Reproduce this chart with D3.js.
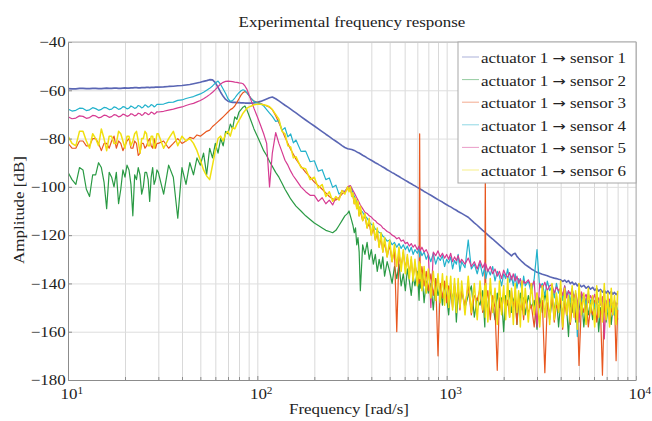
<!DOCTYPE html>
<html>
<head>
<meta charset="utf-8">
<script src="https://cdn.jsdelivr.net/npm/d3@7"></script>
<style>
body{margin:0;background:#fff;}
svg text{font-family:"Liberation Serif","Times New Roman",serif;fill:#222;}
</style>
</head>
<body>
<svg id="chart" width="652" height="421"></svg>
<script>
// frequency grid [rad/s], shared by all six measured responses
var freq = [
 10,10.5,11,11.5,12,12.5,13,13.5,14,14.5,
 15,15.5,16,16.5,17,17.5,18,18.5,19,19.5,
 20,20.5,21,21.5,22,22.5,23,23.5,24,24.5,
 25,25.5,26,26.5,27,27.5,28,28.5,29,29.5,
 30,32,34,36,38,40,42,44,46,48,
 50,52,54,56,58,60,62,64,66,68,
 70,72,74,76,78,80,82,84,86,88,
 90,93,96,100,104,108,112,116,120,125,
 130,135,140,145,150,155,160,170,180,190,
 200,210,220,230,240,250,260,270,280,290,
 300,305,310,315,320,325,330,335,340,345,
 350,360,370,380,390,400,410,420,430,440,
 450,460,470,485,500,515,530,545,560,575,
 590,605,620,635,650,665,680,700,715,720,
 725,740,760,780,800,825,850,875,900,925,
 950,975,1000,1025,1050,1075,1100,1125,1150,1175,
 1200,1250,1300,1350,1400,1450,1500,1550,1590,1600,
 1610,1650,1700,1750,1800,1850,1900,1950,2000,2050,
 2100,2150,2200,2250,2300,2350,2400,2450,2500,2550,
 2600,2700,2800,2900,3000,3100,3200,3300,3400,3500,
 3600,3700,3800,3900,4000,4100,4200,4300,4400,4500,
 4600,4700,4800,4900,5000,5150,5300,5450,5600,5750,
 5900,6050,6200,6350,6500,6650,6800,6950,7100,7250,
 7400,7550,7700,7850,8000];

// amplitudes [dB]
var sensor1 = [
 -59.3,-59.4,-59.4,-59.2,-59.2,-59.3,-59.3,-59.2,-59.2,-59.3,
 -59.3,-59.2,-59.1,-59.2,-59.2,-59.1,-59.1,-59.2,-59.2,-59.1,
 -59.0,-59.1,-59.1,-59.0,-59.0,-58.9,-58.9,-59.0,-59.0,-58.9,
 -58.9,-58.9,-58.8,-58.8,-58.9,-58.8,-58.8,-58.8,-58.7,-58.7,
 -58.7,-58.6,-58.4,-58.3,-58.1,-58.0,-57.8,-57.6,-57.3,-57.0,
 -56.7,-56.3,-56.0,-55.6,-55.7,-56.8,-58.8,-60.8,-62.5,-63.8,
 -64.5,-64.8,-65.0,-65.0,-65.1,-65.1,-65.2,-65.2,-65.3,-65.3,
 -65.3,-65.3,-65.2,-65.0,-64.6,-64.1,-63.6,-63.1,-62.8,-63.5,
 -64.4,-65.3,-66.2,-67.0,-67.8,-68.6,-69.4,-70.9,-72.3,-73.6,
 -74.8,-76.0,-77.1,-78.2,-79.2,-80.2,-81.1,-82.0,-82.9,-83.7,
 -84.2,-84.3,-84.4,-84.5,-84.7,-84.9,-85.2,-85.5,-85.8,-86.0,
 -86.3,-86.9,-87.4,-88.0,-88.5,-89.0,-89.5,-90.0,-90.4,-90.9,
 -91.3,-91.8,-92.2,-92.9,-93.5,-94.1,-94.6,-95.2,-95.7,-96.3,
 -96.8,-97.3,-97.8,-98.3,-98.7,-99.2,-99.6,-100.2,-100.6,-100.8,
 -100.9,-101.3,-101.9,-102.4,-102.9,-103.5,-104.1,-104.7,-105.3,-105.8,
 -106.3,-106.9,-107.4,-107.9,-108.3,-108.8,-109.3,-109.7,-110.2,-110.6,
 -111.0,-111.8,-112.6,-113.8,-114.9,-115.9,-117.0,-118.0,-118.7,-118.9,
 -119.1,-119.9,-120.8,-121.6,-122.5,-123.3,-124.1,-124.9,-125.7,-126.5,
 -127.2,-127.9,-128.6,-127.8,-127.5,-128.8,-129.6,-130.3,-131.0,-131.6,
 -132.2,-133.1,-134.0,-134.7,-135.4,-135.8,-136.2,-136.5,-136.8,-137.2,
 -137.5,-137.8,-138.0,-138.3,-138.5,-139.2,-138.6,-139.5,-138.8,-140.1,
 -139.4,-140.5,-139.9,-141.0,-140.3,-141.4,-140.8,-142.0,-141.2,-142.4,
 -141.6,-142.9,-142.0,-143.2,-142.5,-143.6,-142.8,-144.0,-143.1,-144.2,
 -143.4,-144.5,-143.7,-144.6,-144.0];

var sensor2 = [
 -94,-97,-99,-92,-93,-101,-104,-95,-95,-90,
 -92,-98,-109,-94,-96,-100,-94,-107,-101,-93,
 -96,-91,-93,-99,-112,-95,-97,-92,-95,-103,
 -100,-94,-94,-97,-106,-96,-92,-99,-97,-93,
 -94,-103,-91,-96,-113,-92,-99,-90,-95,-88,
 -91,-86,-95,-84,-88,-82,-86,-80,-83,-77,
 -78,-74,-76,-71,-72,-69,-68,-67,-66.5,-68,
 -70,-73,-76,-79,-82,-85,-87,-89.5,-91.5,-94,
 -96,-98.5,-101,-103,-105,-106.5,-108,-110,-112,-113.5,
 -115,-116,-117,-118,-118.5,-119,-118,-116,-114,-112,
 -111,-110,-112,-114,-116,-119,-117,-124,-121,-127,
 -143,-124,-128,-123,-130,-126,-132,-128,-135,-130,
 -134,-129,-137,-131,-135,-140,-133,-138,-132,-141,
 -136,-143,-134,-139,-145,-137,-141,-135,-147,-138,
 -142,-136,-148,-139,-144,-140,-151,-138,-145,-141,
 -149,-140,-146,-153,-142,-147,-141,-156,-144,-148,
 -143,-150,-145,-141,-154,-146,-149,-143,-158,-147,
 -145,-151,-142,-148,-155,-144,-150,-146,-160,-145,
 -149,-143,-152,-147,-145,-157,-148,-144,-151,-146,
 -153,-145,-150,-147,-159,-146,-152,-144,-149,-155,
 -147,-151,-145,-158,-148,-153,-146,-150,-162,-147,
 -152,-146,-156,-149,-151,-145,-158,-148,-153,-147,
 -155,-149,-146,-160,-150,-153,-147,-156,-151,-148,
 -157,-150,-153,-148,-155];

var sensor3 = [
 -82,-84,-84,-81,-81,-83,-83,-80,-80,-82,
 -85,-82,-82,-84,-81,-79,-84,-81,-82,-85,
 -83,-81,-80,-84,-84,-81,-82,-87,-86,-82,
 -82,-84,-83,-81,-80,-83,-84,-80,-84,-82,
 -82,-81,-84,-82,-80,-82,-81,-79.5,-80,-78.5,
 -79,-78,-77,-76.5,-75,-74,-73,-72,-71,-70,
 -69,-68,-67.5,-66.5,-65,-63.5,-62,-61,-60.5,-61,
 -62,-63.5,-64.5,-65,-65.5,-66,-66.5,-67,-68,-70.5,
 -73.5,-76.5,-79.5,-82,-84.5,-86.5,-88.5,-91.5,-94,-96,
 -98,-99.5,-101,-102.5,-104,-105,-105.5,-104.5,-103,-102,
 -101,-100.5,-101,-103,-104,-107,-105,-109,-108,-112,
 -110,-114,-112,-117,-115,-120,-117,-122,-119,-125,
 -121,-127,-123,-129,-124,-131,-126,-160,-128,-133,
 -127,-134,-129,-136,-130,-138,-132,-137,-140,-78,
 -139,-133,-141,-135,-143,-136,-145,-138,-170,-140,
 -146,-139,-148,-141,-144,-150,-140,-147,-142,-151,
 -143,-149,-141,-153,-145,-147,-142,-152,-146,-94,
 -148,-143,-155,-145,-150,-176,-146,-152,-144,-149,
 -147,-154,-143,-150,-146,-157,-145,-151,-148,-155,
 -146,-152,-149,-158,-144,-150,-147,-177,-148,-153,
 -145,-156,-149,-151,-146,-159,-148,-153,-145,-157,
 -150,-147,-155,-149,-174,-148,-152,-146,-158,-150,
 -153,-147,-156,-149,-152,-178,-148,-154,-146,-157,
 -150,-153,-147,-172,-151];

var sensor4 = [
 -67.8,-68.6,-68.3,-67.4,-67.5,-68.4,-68.1,-67.2,-67.6,-68.3,
 -67.9,-67.1,-67.3,-68.0,-67.8,-66.9,-67.2,-67.9,-67.6,-66.8,
 -67.0,-67.7,-67.4,-66.5,-66.9,-67.5,-67.2,-66.3,-66.6,-67.3,
 -66.9,-66.0,-66.4,-67.0,-66.7,-65.9,-66.2,-66.9,-66.5,-65.8,
 -65.8,-65.7,-65.0,-64.9,-64.2,-64.0,-63.4,-63.0,-62.6,-62.0,
 -61.5,-60.8,-60.0,-59.2,-58.2,-57.0,-56.2,-57.6,-59.5,-61.3,
 -63.5,-64.6,-64.3,-63.2,-62.0,-61.0,-60.2,-59.8,-60.1,-61.0,
 -62.0,-63.5,-64.6,-65.2,-65.5,-66.5,-68.0,-69.5,-70.8,-72.9,
 -72.6,-76.5,-75.5,-79.3,-78.1,-81.8,-80.6,-85.3,-85.2,-89.6,
 -89.2,-93.5,-92.9,-97.0,-96.3,-100.2,-99.3,-103.0,-102.0,-101.8,
 -100.5,-100,-99.8,-100.8,-102.5,-103.8,-105,-106.3,-107.5,-108.5,
 -109.5,-110.5,-112,-113,-114.5,-115.5,-116,-117.5,-118,-119,
 -119,-120.5,-121,-122.5,-122,-124,-123,-125,-123.5,-125.5,
 -124,-126,-124.5,-127,-125,-128,-126,-127.5,-125.5,-129,
 -126,-128.5,-127,-130,-128,-131,-127.5,-132,-129,-130.5,
 -128.5,-133,-130,-131.5,-129,-134,-130.5,-132,-128,-135,
 -131,-133.5,-122,-134,-132,-136,-131.5,-137,-133,-135,
 -138,-134,-136.5,-133,-139,-135,-137,-141,-136,-138,
 -134,-139.5,-137,-141,-136,-142,-138,-140,-143,-137,
 -141,-139,-144,-138,-126,-142,-140,-145,-139,-143,
 -141,-146,-140,-144,-142,-147,-141,-145,-143,-148,
 -142,-146,-144,-162,-143,-147,-145,-149,-144,-148,
 -146,-150,-145,-148,-147,-151,-146,-149,-152,-147,
 -150,-148,-153,-149,-151];

var sensor5 = [
 -71.0,-71.8,-71.5,-70.6,-70.8,-71.6,-71.3,-70.4,-70.6,-71.4,
 -71.1,-70.3,-70.5,-71.2,-70.9,-70.1,-70.3,-71.0,-70.7,-69.9,
 -70.2,-70.8,-70.5,-69.7,-70.0,-70.6,-70.3,-69.5,-69.7,-70.4,
 -70.0,-69.2,-69.5,-70.1,-69.8,-69.0,-69.3,-69.9,-69.5,-68.9,
 -69.0,-68.7,-68.2,-67.8,-67.3,-66.9,-66.3,-65.8,-65.4,-64.8,
 -64.2,-63.5,-62.7,-61.8,-60.8,-59.7,-58.5,-57.4,-56.7,-56.3,
 -56.2,-56.3,-56.4,-56.6,-56.7,-56.9,-57.0,-57.3,-58.2,-59.5,
 -61.5,-64.5,-67.5,-71,-74.5,-78,-82,-100,-86,-77.5,
 -82,-85.5,-89,-91,-93.5,-95.5,-97,-100,-102,-103.5,
 -103.5,-106,-104.5,-107,-105.5,-107.5,-104.5,-105,-101.5,-102,
 -100,-99.7,-99.5,-100.5,-101.5,-102.5,-103.5,-104.5,-105.5,-106.5,
 -107.5,-109,-110.5,-111,-112,-112.5,-113.5,-114,-115,-115.5,
 -116,-117,-117.5,-118.5,-119,-120,-120.5,-121.5,-121,-122.5,
 -122,-123.5,-123,-124.5,-123.5,-125,-124,-126,-124.5,-125.5,
 -126.5,-125,-127,-126,-128,-150,-127,-128.5,-126.5,-129,
 -127.5,-129.5,-128,-130,-127.5,-131,-129,-130.5,-128.5,-131.5,
 -130,-132,-129.5,-133,-131,-134,-130.5,-133.5,-131.5,-134.5,
 -132,-135,-133,-136,-134,-137,-135,-138,-134.5,-136.5,
 -137.5,-135.5,-138.5,-136,-139,-137,-140,-138,-141,-139,
 -140,-138.5,-141.5,-139,-158,-140,-142,-139.5,-143,-141,
 -140.5,-144,-141.5,-143,-142,-145,-141,-146,-143,-144.5,
 -142.5,-146,-144,-147,-156,-143.5,-146.5,-144.5,-148,-145,
 -147,-144.5,-148.5,-146,-149,-145.5,-163,-147,-149.5,-146.5,
 -148,-150,-147,-149.5,-148];

var sensor6 = [
 -79,-82,-83,-77,-77,-81,-84,-78,-80,-83,
 -76,-80,-85,-79,-79,-82,-82,-77,-78,-81,
 -84,-79,-79,-83,-81,-78,-77,-81,-86,-80,
 -80,-77,-78,-83,-83,-79,-79,-84,-82,-78,
 -78,-84,-80,-77,-83,-79,-81,-80,-82,-85,
 -89,-93,-95.5,-97,-91,-85,-80,-79,-81,-78,
 -77,-79,-75.5,-76,-74,-72.5,-71,-69.5,-68.5,-67.5,
 -67,-66.5,-66,-65.8,-65.8,-66,-66.3,-66.8,-68,-70,
 -72,-77,-78,-83,-83.5,-88,-87.5,-92,-92.5,-97,
 -96,-100.5,-99,-104,-102,-106,-104,-105.5,-101.5,-103,
 -100,-102,-100,-104,-102.5,-107,-104.5,-109,-106,-112,
 -108,-114,-111,-117,-113,-120,-115,-122,-117,-125,
 -119,-127,-121,-129,-122,-131,-124,-133,-125,-135,
 -126,-136,-128,-138,-129,-139,-130,-141,-131,-138,
 -132,-143,-133,-144,-134,-146,-135,-147,-136,-148,
 -136,-149,-137,-150,-137,-151,-138,-152,-138,-150,
 -139,-153,-137,-152,-140,-155,-139,-151,-141,-154,
 -140,-156,-138,-152,-142,-157,-139,-153,-141,-155,
 -138,-154,-142,-157,-140,-152,-143,-158,-139,-153,
 -142,-156,-140,-153,-144,-158,-141,-154,-143,-157,
 -140,-155,-144,-152,-139,-158,-142,-153,-145,-156,
 -141,-154,-143,-159,-140,-153,-144,-157,-142,-152,
 -145,-158,-141,-154,-143,-156,-140,-155,-144,-158,
 -142,-153,-145,-157,-143];

var seriesNames = ["sensor 1","sensor 2","sensor 3","sensor 4","sensor 5","sensor 6"];
var seriesColours = ["#5a66b4","#2a9a44","#e8571f","#22b2cc","#d63b92","#f0e010"];

var xTicks = [10,100,1000,10000];
var xMinor = [20,30,40,50,60,70,80,90,200,300,400,500,600,700,800,900,2000,3000,4000,5000,6000,7000,8000,9000];
var yTicks = [-180,-160,-140,-120,-100,-80,-60,-40];

var sx = 1.13; // the original figure is a little stretched sideways
var plotL = 68, plotR = 636, plotT = 42, plotB = 380;

var svg = d3.select("#chart");

var x = d3.scaleLog().domain([10,10000]).range([plotL,plotR]);
var y = d3.scaleLinear().domain([-180,-40]).range([plotB,plotT]);

// grid
svg.append("g")
	.attr("transform","translate(0,"+plotB+")")
	.call(d3.axisBottom(x).tickValues(xMinor.concat(xTicks)).tickSize(-(plotB-plotT)).tickFormat(""))
	.call(function(g){ g.select(".domain").remove(); })
	.selectAll("line").attr("stroke","#d9d9d9");

svg.append("g")
	.attr("transform","translate("+plotL+",0)")
	.call(d3.axisLeft(y).tickValues(yTicks).tickSize(-(plotR-plotL)).tickFormat(""))
	.call(function(g){ g.select(".domain").remove(); })
	.selectAll("line").attr("stroke","#dedede");

// traces
svg.append("clipPath").attr("id","plotclip")
	.append("rect").attr("x",plotL).attr("y",plotT).attr("width",plotR-plotL).attr("height",plotB-plotT);

var allSeries = [sensor1,sensor2,sensor3,sensor4,sensor5,sensor6];

var line = d3.line()
	.defined(function(d,i){ return i < freq.length; })
	.x(function(d,i){ return x(freq[i]); })
	.y(function(d){ return y(d); });

svg.append("g").attr("clip-path","url(#plotclip)")
	.selectAll("path")
	.data(allSeries)
	.enter()
	.append("path")
	.attr("d",line)
	.attr("fill","none")
	.attr("stroke",function(d,i){ return seriesColours[i]; })
	.attr("stroke-width",function(d,i){ return i==0 ? 1.6 : (i==5 ? 1.5 : 1.2); })
	.attr("stroke-linejoin","round");

// axes
var axisColour = "#8c8c8c";

var xAxis = svg.append("g")
	.attr("transform","translate(0,"+plotB+")")
	.call(d3.axisBottom(x).tickValues(xTicks).tickSizeInner(-4).tickSizeOuter(0).tickPadding(8));
svg.append("g")
	.attr("transform","translate(0,"+plotB+")")
	.call(d3.axisBottom(x).tickValues(xMinor).tickSize(-3).tickFormat(""))
	.call(function(g){ g.select(".domain").remove(); })
	.selectAll("line").attr("stroke",axisColour);

xAxis.selectAll(".tick text").text(null)
	.attr("font-size","15px")
	.attr("dx","3")
	.attr("transform","scale("+sx+",1)")
	.each(function(d){
		var t = d3.select(this);
		t.append("tspan").text("10");
		t.append("tspan").attr("dy","-0.45em").attr("font-size","10px").text(Math.round(Math.log10(d)));
	});

var yAxis = svg.append("g")
	.attr("transform","translate("+plotL+",0)")
	.call(d3.axisLeft(y).tickValues(yTicks).tickSizeInner(-4).tickSizeOuter(0).tickPadding(2));
yAxis.selectAll(".tick text").attr("font-size","15px").attr("transform","scale("+sx+",1)");

[xAxis,yAxis].forEach(function(a){
	a.select(".domain").attr("stroke",axisColour);
	a.selectAll(".tick line").attr("stroke",axisColour);
	a.selectAll(".tick text").attr("fill","#222").attr("font-family",null);
});

// box top and right
svg.append("path")
	.attr("d","M"+plotL+","+plotT+"H"+plotR+"V"+plotB)
	.attr("fill","none").attr("stroke","#b5b5b5");

// labels
function label(px,py,str,rot){
	var g = svg.append("g").attr("transform","translate("+px+","+py+")"+(rot ? " rotate("+rot+")" : "")+" scale("+sx+",1)");
	return g.append("text").attr("text-anchor","middle").attr("font-size","15px").text(str);
}
label(352,27,"Experimental frequency response");
label(349,414,"Frequency [rad/s]");
label(24,210,"Amplitude [dB]",-90);

// legend
var lgX = 458, lgY = plotT, lgW = plotR-lgX, lgH = 141, rowH = 22.6;
var legend = svg.append("g");
legend.append("rect")
	.attr("x",lgX).attr("y",lgY).attr("width",lgW).attr("height",lgH)
	.attr("fill","#fff").attr("stroke","#a8a8a8");

var rows = legend.selectAll("g.row")
	.data(seriesNames)
	.enter()
	.append("g")
	.attr("class","row")
	.attr("transform",function(d,i){ return "translate(0,"+(lgY+16+i*rowH)+")"; });
rows.append("line")
	.attr("x1",lgX+4).attr("x2",lgX+21)
	.attr("y1",-1).attr("y2",-1)
	.attr("stroke",function(d,i){ return seriesColours[i]; })
	.attr("stroke-opacity",0.5);
var lgText = rows.append("g")
	.attr("transform","translate("+(lgX+23)+",5) scale("+sx+",1)")
	.append("text")
	.attr("font-size","15px");
lgText.append("tspan").text("actuator 1 ");
lgText.append("tspan").attr("font-family","DejaVu Sans").attr("font-size","14px").text("\u2192");
lgText.append("tspan").text(function(d){ return " " + d; });
</script>
</body>
</html>
